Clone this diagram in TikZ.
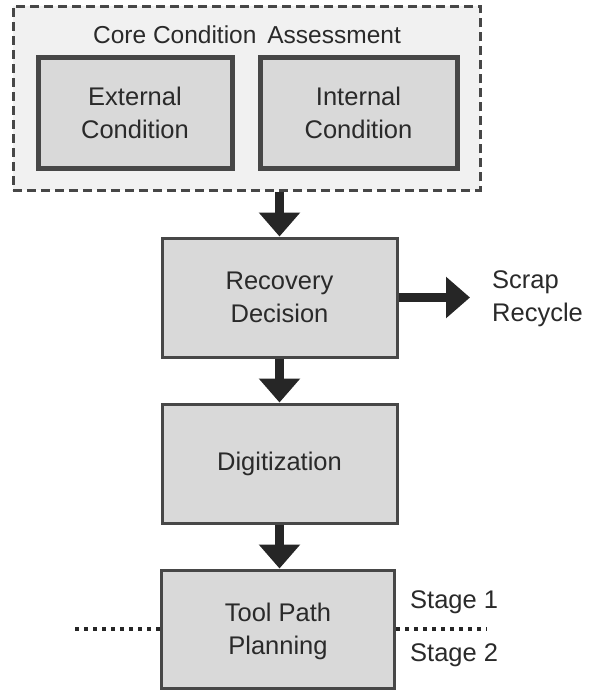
\documentclass[tikz,border=0pt]{standalone}
\usepackage{fontspec}
\setmainfont{Liberation Sans}
\usetikzlibrary{arrows.meta}
\definecolor{boxline}{HTML}{474747}
\definecolor{boxfill}{HTML}{D9D9D9}
\definecolor{outerfill}{HTML}{F1F1F1}
\definecolor{arrowc}{HTML}{262626}
\definecolor{txt}{HTML}{2A2A2A}
\begin{document}
\begin{tikzpicture}[x=1pt,y=-1pt,
  every node/.style={font=\fontsize{25.5}{33}\selectfont, text=txt},
  outerbox/.style={draw=boxline, fill=outerfill, line width=3pt, dash pattern=on 9pt off 5pt, minimum width=467pt, minimum height=184pt, inner sep=0pt},
  subbox/.style={draw=boxline, fill=boxfill, line width=5pt, minimum height=111pt, inner sep=0pt, align=center},
  stepbox/.style={draw=boxline, fill=boxfill, line width=3pt, minimum width=235pt, minimum height=119pt, inner sep=0pt, align=center},
  flow/.style={draw=arrowc, line width=9pt, -{Triangle[width=40pt,length=24pt]}},
  stageline/.style={draw=arrowc, line width=4pt, dash pattern=on 4pt off 5pt},
  plain/.style={inner sep=0pt, align=left}
]
\useasboundingbox (0,0) rectangle (590,694);
\fill[white] (0,0) rectangle (590,694);

\node[outerbox] (outer) at (246.5,98) {};
\node[plain, font=\fontsize{24.5}{33}\selectfont] (title) at (247,35) {Core Condition\, Assessment};
\node[subbox, minimum width=194pt] (ext) at (135,112.5) {External\\Condition};
\node[subbox, minimum width=197pt] (int) at (358.5,112.5) {Internal\\Condition};

\node[stepbox] (rec) at (279.5,297.5) {Recovery\\Decision};
\node[stepbox] (dig) at (279.5,463.5) {Digitization};
\node[stepbox, minimum width=233pt, minimum height=118pt, text depth=0pt] (tool) at (278,629) {Tool Path\\Planning};

\node[plain, anchor=west] (scrap) at (492,299) {Scrap\\Recycle};
\node[plain, anchor=west] (s1) at (410,602) {Stage 1};
\node[plain, anchor=west] (s2) at (410,655) {Stage 2};

\coordinate (dl) at (75,629);
\coordinate (dr) at (487,629);

\draw[flow] (rec.north |- outer.south) -- (rec.north);
\draw[flow] (rec.south) -- (dig.north);
\draw[flow] (dig.south) -- (dig.south |- tool.north);
\draw[flow, shorten >=22pt] (rec.east) -- (rec.east -| scrap.west);
\draw[stageline] (dl) -- (tool.west);
\draw[stageline] (tool.east) -- (dr);
\end{tikzpicture}
\end{document}
